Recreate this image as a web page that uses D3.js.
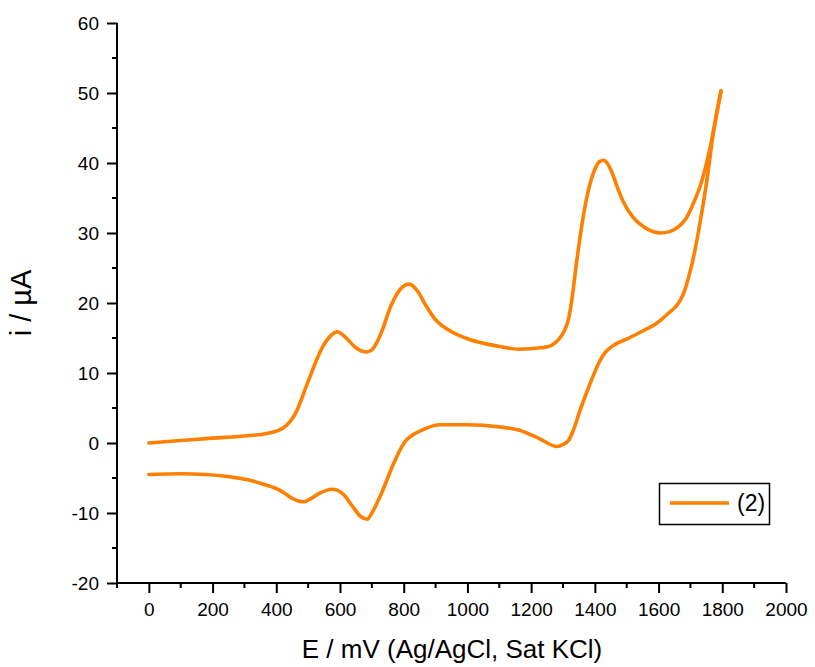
<!DOCTYPE html>
<html>
<head>
<meta charset="utf-8">
<script src="https://cdn.jsdelivr.net/npm/d3@7"></script>
<style>
  html, body { margin: 0; padding: 0; background: #fff; }
  svg { display: block; font-family: "Liberation Sans", Arial, sans-serif; }
</style>
</head>
<body>
<svg id="chart" width="815" height="667"></svg>
<script>
// Cyclic voltammogram, sample (2)
// Anodic (forward) sweep: potential in mV, current in µA
const forwardE = [0, 100, 200, 300, 370, 420, 460, 500, 545, 575, 592, 615, 650, 682, 700, 715, 730, 760, 790, 818, 845, 870, 900, 925, 950, 1000, 1100, 1161, 1230, 1256, 1275, 1290, 1305, 1318, 1330, 1342, 1373, 1399, 1415, 1428, 1440, 1455, 1470, 1490, 1519, 1560, 1606, 1635, 1663, 1685, 1705, 1737, 1758, 1779, 1796];
const forwardI = [0, 0.35, 0.7, 1.0, 1.35, 2.1, 4.2, 8.8, 13.7, 15.5, 15.9, 15.2, 13.6, 13.0, 13.3, 14.3, 15.8, 19.6, 22.0, 22.7, 21.6, 19.6, 17.6, 16.6, 15.9, 14.9, 13.8, 13.4, 13.6, 13.8, 14.3, 15.0, 16.1, 17.8, 21.2, 25.6, 34.7, 39.0, 40.2, 40.4, 39.9, 38.5, 36.6, 34.4, 32.3, 30.7, 30.0, 30.2, 30.9, 32.0, 33.8, 37.6, 41.4, 46.1, 50.3];

// Cathodic (reverse) sweep, in sweep order
const reverseE = [1796, 1773, 1752, 1726, 1710, 1695, 1682, 1667, 1650, 1630, 1594, 1550, 1507, 1454, 1432, 1412, 1381, 1350, 1334, 1318, 1300, 1282, 1224, 1161, 1100, 1000, 912, 860, 830, 808, 785, 764, 730, 700, 686, 665, 640, 610, 575, 555, 535, 510, 487, 450, 430, 409, 360, 314, 250, 178, 100, 0];
const reverseI = [50.3, 44.7, 37.6, 30.4, 26.6, 23.8, 21.8, 20.3, 19.3, 18.5, 17.1, 16.0, 15.0, 13.8, 12.9, 11.4, 8.0, 4.2, 2.0, 0.4, -0.2, -0.5, 0.67, 1.86, 2.3, 2.6, 2.6, 1.9, 1.2, 0.4, -1.3, -3.4, -7.2, -10.0, -10.9, -10.5, -9.1, -7.3, -6.6, -6.8, -7.2, -7.9, -8.4, -7.9, -7.3, -6.7, -5.9, -5.3, -4.8, -4.5, -4.4, -4.5];

const xTicks = [0, 200, 400, 600, 800, 1000, 1200, 1400, 1600, 1800, 2000];
const yTicks = [-20, -10, 0, 10, 20, 30, 40, 50, 60];
const seriesName = "(2)";
const lineColor = "#ff8000";

const svg = d3.select("#chart");
const x = d3.scaleLinear().domain([-100, 2000]).range([117, 786]);
const y = d3.scaleLinear().domain([-20, 60]).range([583, 23]);

const forward = forwardE.map((e, i) => [e, forwardI[i]]);
const reverse = reverseE.map((e, i) => [e, reverseI[i]]).reverse();

const line = d3.line()
  .x(d => x(d[0]))
  .y(d => y(d[1]))
  .curve(d3.curveMonotoneX);

svg.selectAll("path.sweep")
  .data([forward, reverse])
  .join("path")
  .attr("class", "sweep")
  .attr("fill", "none")
  .attr("stroke", lineColor)
  .attr("stroke-width", 3.6)
  .attr("stroke-linejoin", "round")
  .attr("stroke-linecap", "round")
  .attr("d", line);

// Axes: major ticks with labels plus unlabelled minor ticks
const tickFont = 19;
const fmt = d => String(d);
const xMinor = d3.range(-100, 2001, 100).filter(v => v % 200 !== 0);
const yMinor = d3.range(-15, 60, 10);

const gx = svg.append("g").attr("transform", `translate(0,${y(-20)})`);
gx.call(d3.axisBottom(x).tickValues(xTicks).tickSize(10).tickPadding(10).tickFormat(fmt));
gx.selectAll(".minor").data(xMinor).join("line")
  .attr("class", "minor").attr("x1", d => x(d)).attr("x2", d => x(d))
  .attr("y1", 0).attr("y2", 5).attr("stroke", "#000").attr("stroke-width", 2);

const gy = svg.append("g").attr("transform", `translate(${x(-100)},0)`);
gy.call(d3.axisLeft(y).tickValues(yTicks).tickSize(10).tickPadding(8).tickFormat(fmt));
gy.selectAll(".minor").data(yMinor).join("line")
  .attr("class", "minor").attr("x1", 0).attr("x2", -5)
  .attr("y1", d => y(d)).attr("y2", d => y(d)).attr("stroke", "#000").attr("stroke-width", 2);

gx.select(".domain").attr("d", `M${x(-100)},0H${x(2000)}`);
gy.select(".domain").attr("d", `M0,${y(-20)}V${y(60)}`);
svg.selectAll(".domain").attr("stroke", "#000").attr("stroke-width", 2);
svg.selectAll(".tick line").attr("stroke", "#000").attr("stroke-width", 2);
svg.selectAll(".tick text")
  .attr("fill", "#000")
  .style("font-size", tickFont + "px")
  .style("font-family", "'Liberation Sans', Arial, sans-serif");

// Axis titles
svg.append("text")
  .attr("x", 452)
  .attr("y", 658)
  .attr("text-anchor", "middle")
  .style("font-size", "26px")
  .text("E / mV (Ag/AgCl, Sat KCl)");

svg.append("text")
  .attr("transform", `translate(31,303) rotate(-90)`)
  .attr("text-anchor", "middle")
  .style("font-size", "29px")
  .text("i / µA");

// Legend
const leg = svg.append("g");
leg.append("rect")
  .attr("x", 659.5).attr("y", 483.5).attr("width", 110).attr("height", 41)
  .attr("fill", "#fff").attr("stroke", "#000").attr("stroke-width", 1.5);
leg.append("line")
  .attr("x1", 670).attr("x2", 729).attr("y1", 503).attr("y2", 503)
  .attr("stroke", lineColor).attr("stroke-width", 3.6);
leg.append("text")
  .attr("x", 737).attr("y", 511)
  .style("font-size", "23px")
  .text(seriesName);
</script>
</body>
</html>
